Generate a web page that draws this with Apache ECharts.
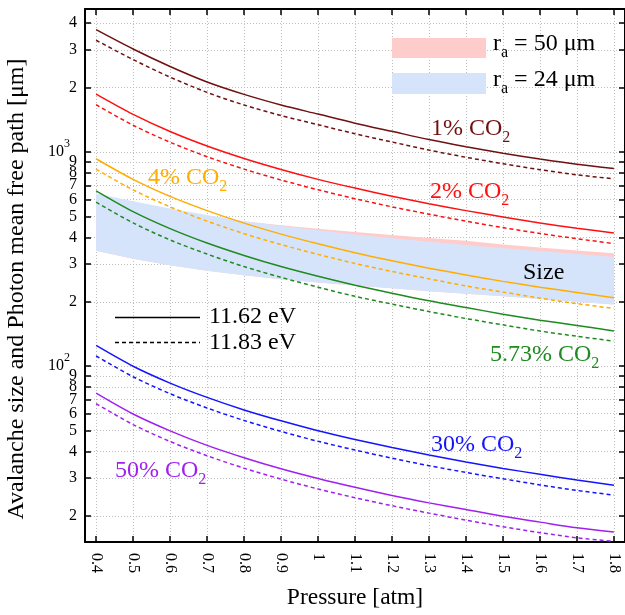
<!DOCTYPE html>
<html><head><meta charset="utf-8">
<script src="https://cdn.jsdelivr.net/npm/echarts@6/dist/echarts.min.js"></script>
<style>html,body{margin:0;padding:0;background:#fff}#c{width:625px;height:615px}</style>
</head><body><div id="c"></div>
<script>
const FONT = 'Liberation Serif';
const pressure = [0.4,0.5,0.6,0.7,0.8,0.9,1.0,1.1,1.2,1.3,1.4,1.5,1.6,1.7,1.8];
const xTicks = [0.4,0.5,0.6,0.7,0.8,0.9,1,1.1,1.2,1.3,1.4,1.5,1.6,1.7,1.8];
const yTicks = [20,30,40,50,60,70,80,90,100,200,300,400,500,600,700,800,900,1000,2000,3000,4000];

const co2_1_e1162  = [3730,3030,2510,2125,1860,1660,1505,1365,1250,1145,1060,988,928,877,838];
const co2_1_e1183  = [3330,2705,2240,1900,1660,1482,1343,1218,1115,1022,946,882,828,783,750];
const co2_2_e1162  = [1864,1500,1248,1068,934,830,746,679,622,574,533,498,467,441,419];
const co2_2_e1183  = [1664,1335,1112,952,833,741,667,606,555,513,476,444,417,394,374];
const co2_4_e1162  = [931,746,621,533,466,414,373,339,311,287,267,249,234,221,209];
const co2_4_e1183  = [832,666,555,476,416,370,333,302,277,256,237,222,208,196,186];
const co2_573_e1162 = [659,527,439,376,329,292,263,239,219,202,188,175,164,155,146];
const co2_573_e1183 = [584,467,389,334,292,260,234,212,195,180,167,156,146,138,131];
const co2_30_e1162 = [125,100,83.4,71.5,62.5,55.6,50.0,45.5,41.7,38.5,35.7,33.3,31.3,29.4,27.8];
const co2_30_e1183 = [111.6,89.3,74.4,63.8,55.8,49.6,44.6,40.6,37.2,34.3,31.9,29.8,27.9,26.3,25.0];
const co2_50_e1162 = [74.8,59.8,49.9,42.7,37.4,33.2,29.9,27.2,24.9,23.0,21.4,19.9,18.7,17.6,16.8];
const co2_50_e1183 = [66.8,53.4,44.5,38.2,33.4,29.7,26.7,24.3,22.3,20.6,19.1,17.8,16.7,15.8,15.2];

const size_r24_upper = [640,590,545,508,476,452,431,412,396,381,368,356,345,334,324];
const size_r24_lower = [346,318,296,279,266,255,246,238,231,224,218,212,206,200,194];
const size_r50_upper = [620,575,535,502,476,455,438,424,410,397,385,370,358,347,337];
const size_r50_lower = [346,318,296,279,266,255,246,238,231,224,218,212,206,200,194];

const C1 = '#701010', C2 = '#ff1010', C4 = '#ffad00', C573 = '#1f8a1f', C30 = '#1414ff', C50 = '#a020f0';
const PINK = '#ffcccc', LBLUE = '#d6e4fb';

const toPts = arr => pressure.map((p, i) => [p, arr[i]]);

function lineSeries(arr, color, dashed) {
  return {
    type: 'line', data: toPts(arr), smooth: 0.3, symbol: 'none', z: 3, silent: true,
    lineStyle: { color: color, width: 1.5, type: dashed ? [4, 3] : 'solid' }
  };
}
function bandSeries(upper, lower, color, z) {
  return {
    type: 'custom', coordinateSystem: 'cartesian2d', z: z, silent: true,
    data: [[pressure[0], lower[0]]],
    renderItem: function (params, api) {
      const pts = [];
      for (let i = 0; i < pressure.length; i++) pts.push(api.coord([pressure[i], upper[i]]));
      for (let i = pressure.length - 1; i >= 0; i--) pts.push(api.coord([pressure[i], lower[i]]));
      return { type: 'polygon', shape: { points: pts }, style: { fill: color } };
    }
  };
}

const mainTok = (c) => ({ fontSize: 24, lineHeight: 34, fontFamily: FONT, fill: c });
const subTok = (c) => ({ fontSize: 16, lineHeight: 16, verticalAlign: 'bottom', fontFamily: FONT, fill: c });
function note(text, left, top, color) {
  return { type: 'text', left: left, top: top + 6, z: 10, silent: true,
    style: { text: text, rich: { m: mainTok(color), s: subTok(color) } } };
}

const yLabelFmt = v => {
  const e = Math.round(Math.log10(v));
  if (Math.abs(v - Math.pow(10, e)) < 1e-6) return '{b|10}{p|' + e + '}{g| }';
  return '{d|' + Math.round(v / Math.pow(10, Math.floor(Math.log10(v) + 1e-9))) + '}';
};

const chart = echarts.init(document.getElementById('c'), null, { renderer: 'canvas' });
const axisLineStyle = { show: true, lineStyle: { color: '#000', width: 2 } };
const gridLine = { show: true, lineStyle: { color: '#bdbdbd', width: 1, type: [1, 2] } };

chart.setOption({
  animation: false,
  backgroundColor: '#fff',
  grid: { left: 85, top: 9, right: 0, bottom: 66, containLabel: false },
  xAxis: [{
    type: 'value', min: 0.37, max: 1.83, position: 'bottom',
    axisLine: axisLineStyle,
    axisTick: { show: true, inside: true, length: 6, customValues: xTicks, lineStyle: { color: '#000', width: 1.5 } },
    axisLabel: { show: true, customValues: xTicks, rotate: -90, margin: 11, fontSize: 16, fontFamily: FONT, color: '#000',
      formatter: v => String(Math.round(v * 10) / 10) },
    splitLine: gridLine,
    name: 'Pressure [atm]', nameLocation: 'middle', nameGap: 44,
    nameTextStyle: { fontSize: 23.5, fontFamily: FONT, color: '#000' }
  }, {
    type: 'value', min: 0.37, max: 1.83, position: 'top',
    axisLine: axisLineStyle,
    axisTick: { show: true, inside: true, length: 6, customValues: xTicks, lineStyle: { color: '#000', width: 1.5 } },
    axisLabel: { show: false }, splitLine: { show: false }
  }],
  yAxis: [{
    type: 'log', logBase: 10, min: 15.1, max: 4660, position: 'left',
    axisLine: axisLineStyle,
    axisTick: { show: true, inside: true, length: 6, customValues: yTicks, lineStyle: { color: '#000', width: 1.5 } },
    axisLabel: { show: true, customValues: yTicks, margin: 8, formatter: yLabelFmt, color: '#000',
      rich: {
        d: { fontSize: 16, fontFamily: FONT, color: '#000' },
        b: { fontSize: 16, lineHeight: 28, fontFamily: FONT, color: '#000' },
        p: { fontSize: 12, lineHeight: 12, verticalAlign: 'top', fontFamily: FONT, color: '#000' },
        g: { width: 7, fontSize: 6 }
      } },
    splitLine: gridLine
  }, {
    type: 'log', logBase: 10, min: 15.1, max: 4660, position: 'right',
    axisLine: axisLineStyle,
    axisTick: { show: true, inside: true, length: 6, customValues: yTicks, lineStyle: { color: '#000', width: 1.5 } },
    axisLabel: { show: false }, splitLine: { show: false }
  }],
  series: [
    bandSeries(size_r50_upper, size_r50_lower, PINK, 1),
    bandSeries(size_r24_upper, size_r24_lower, LBLUE, 2),
    lineSeries(co2_1_e1162, C1, false), lineSeries(co2_1_e1183, C1, true),
    lineSeries(co2_2_e1162, C2, false), lineSeries(co2_2_e1183, C2, true),
    lineSeries(co2_4_e1162, C4, false), lineSeries(co2_4_e1183, C4, true),
    lineSeries(co2_573_e1162, C573, false), lineSeries(co2_573_e1183, C573, true),
    lineSeries(co2_30_e1162, C30, false), lineSeries(co2_30_e1183, C30, true),
    lineSeries(co2_50_e1162, C50, false), lineSeries(co2_50_e1183, C50, true)
  ],
  graphic: [
    { type: 'text', x: 17, y: 289, rotation: Math.PI / 2, z: 10, silent: true,
      style: { text: 'Avalanche size and Photon mean free path [μm]', fontSize: 24, fontFamily: FONT, fill: '#000',
        align: 'center', verticalAlign: 'middle', textAlign: 'center', textVerticalAlign: 'middle' } },
    { type: 'rect', left: 392, top: 38, z: 10, silent: true, shape: { width: 94, height: 20 }, style: { fill: PINK } },
    { type: 'rect', left: 392, top: 73, z: 10, silent: true, shape: { width: 94, height: 21 }, style: { fill: LBLUE } },
    note('{m|r}{s|a}{m| = 50 μm}', 493, 26, '#000'),
    note('{m|r}{s|a}{m| = 24 μm}', 493, 62, '#000'),
    { type: 'line', z: 10, silent: true, shape: { x1: 115, y1: 317.5, x2: 200, y2: 317.5 }, style: { stroke: '#000', lineWidth: 1.5 } },
    { type: 'line', z: 10, silent: true, shape: { x1: 115, y1: 342.5, x2: 200, y2: 342.5 }, style: { stroke: '#000', lineWidth: 1.5, lineDash: [4, 3] } },
    note('{m|11.62 eV}', 209, 299, '#000'),
    note('{m|11.83 eV}', 209, 325, '#000'),
    note('{m|1% CO}{s|2}', 431, 111, C1),
    note('{m|2% CO}{s|2}', 430, 174, C2),
    note('{m|4% CO}{s|2}', 148, 160, C4),
    note('{m|5.73% CO}{s|2}', 490, 337, C573),
    note('{m|30% CO}{s|2}', 431, 427, C30),
    note('{m|50% CO}{s|2}', 115, 453, C50),
    note('{m|Size}', 523, 255, '#000')
  ]
});
</script>
</body></html>
